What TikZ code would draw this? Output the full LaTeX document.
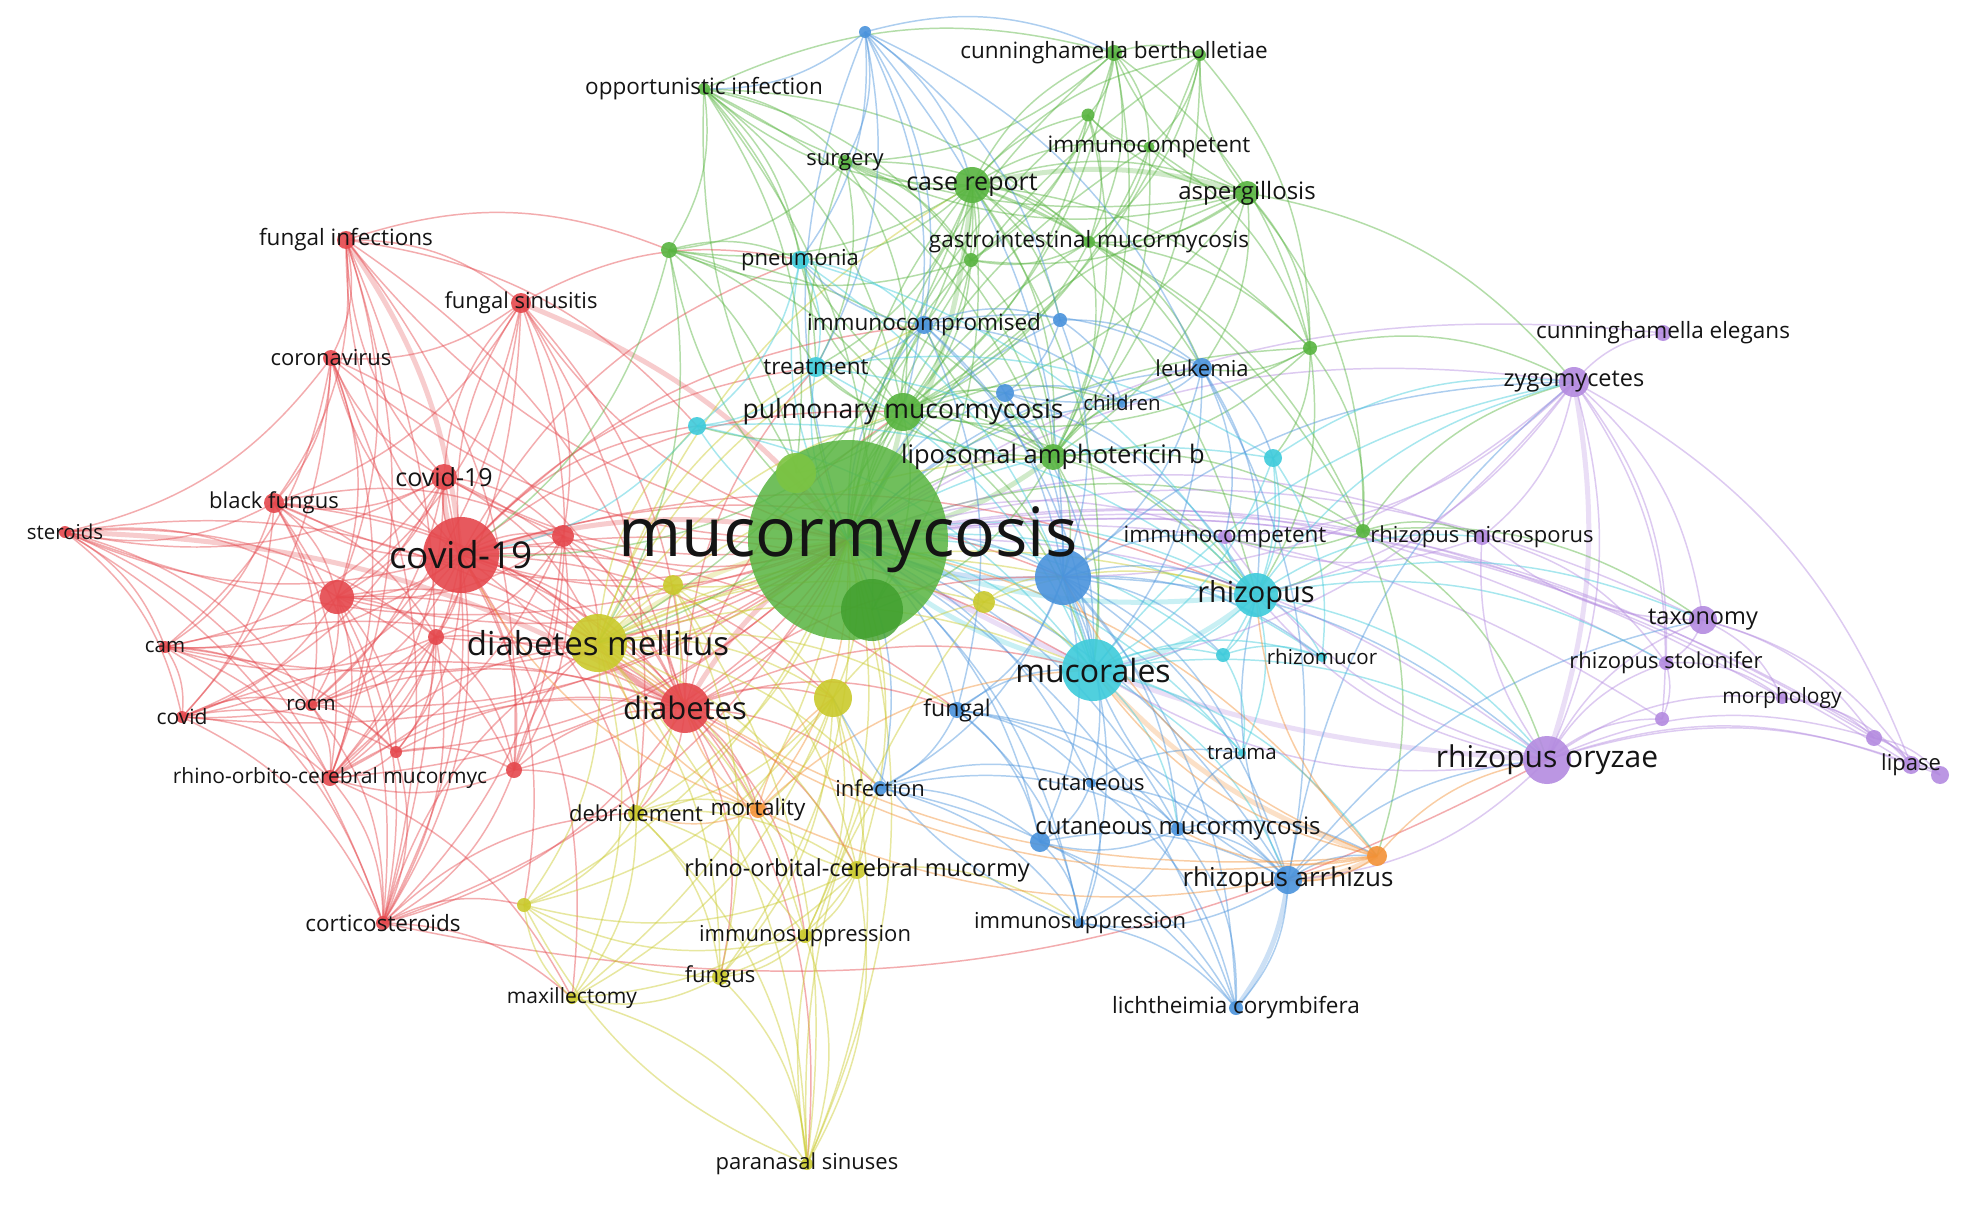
\documentclass[tikz,border=0pt]{standalone}
\usepackage{fontspec}
\setmainfont{Open Sans}
\usetikzlibrary{positioning}
\pgfdeclarelayer{back}
\pgfdeclarelayer{edges}
\pgfsetlayers{back,edges,main}

\definecolor{vred}{HTML}{E5484D}
\definecolor{vgreen}{HTML}{58B440}
\definecolor{vgdark}{HTML}{3E9E2C}
\definecolor{vglight}{HTML}{7CC443}
\definecolor{vblue}{HTML}{4A93DC}
\definecolor{vyellow}{HTML}{CACA2C}
\definecolor{vcyan}{HTML}{3ECBDB}
\definecolor{vpurple}{HTML}{B48BE0}
\definecolor{vorange}{HTML}{F39237}

\newcommand\kwfont[1]{\pgfmathsetlengthmacro\kwsz{#1*0.25pt}\fontsize{\kwsz}{\kwsz}\selectfont}

\tikzset{
  vn/.style 2 args={circle, inner sep=0pt, minimum size={#2*0.25pt}, fill=#1, fill opacity=.9},
  kw/.style={inner sep=0pt, text=black!92, text opacity=1, font=\kwfont{#1}},
  eg/.style={draw=#1, draw opacity=.45, line width=.37pt, bend left=20},
  heavy/.style={draw=#1, draw opacity=.28, line width=1.25pt, bend left=14}
}

\begin{document}
\begin{tikzpicture}[x=0.25pt,y=-0.25pt]
\useasboundingbox (0,0) rectangle (1979,1209);
\begin{pgfonlayer}{back}
  \fill[white] (0,0) rectangle (1979,1209);
\end{pgfonlayer}

% green cluster
\node[vn={vgreen}{200}, fill opacity=.85] (mucor) at (848,540) {};
\node[vn={vglight}{40}] (glight) at (796,473) {};
\node[vn={vgdark}{62}, fill opacity=.8] (gdark) at (872,610) {};
\node[vn={vgreen}{36}] (casrep) at (972,185) {};
\node[vn={vgreen}{24}] (asperg) at (1247,193) {};
\node[vn={vgreen}{16}] (cunber) at (1114,53) {};
\node[vn={vgreen}{12}] (g1) at (1200,55) {};
\node[vn={vgreen}{12}] (oppinf) at (704,89) {};
\node[vn={vgreen}{14}] (surg) at (845,162) {};
\node[vn={vgreen}{11}] (imcomp1) at (1149,147) {};
\node[vn={vgreen}{13}] (g2) at (1088,115) {};
\node[vn={vgreen}{12}] (gastro) at (1089,242) {};
\node[vn={vgreen}{14}] (g3) at (971,260) {};
\node[vn={vgreen}{16}] (g4) at (669,250) {};
\node[vn={vgreen}{14}] (g5) at (1310,348) {};
\node[vn={vgreen}{38}] (pulm) at (903,412) {};
\node[vn={vgreen}{26}] (lipo) at (1053,457) {};
\node[vn={vgreen}{14}] (g6) at (1363,531) {};

% blue cluster
\node[vn={vblue}{12}] (b1) at (865,32) {};
\node[vn={vblue}{18}] (imcomp) at (924,325) {};
\node[vn={vblue}{14}] (b2) at (1060,320) {};
\node[vn={vblue}{20}] (leuk) at (1202,368) {};
\node[vn={vblue}{18}] (b3) at (1005,393) {};
\node[vn={vblue}{10}] (child) at (1122,403) {};
\node[vn={vblue}{56}] (bbig) at (1063,577) {};
\node[vn={vblue}{16}] (fungal) at (957,710) {};
\node[vn={vblue}{14}] (infec) at (880,788) {};
\node[vn={vblue}{10}] (cutan) at (1091,783) {};
\node[vn={vblue}{14}] (cutmuc) at (1178,829) {};
\node[vn={vblue}{20}] (b4) at (1040,842) {};
\node[vn={vblue}{28}] (rarr) at (1288,880) {};
\node[vn={vblue}{10}] (imsupb) at (1080,923) {};
\node[vn={vblue}{14}] (licht) at (1236,1008) {};

% cyan cluster
\node[vn={vcyan}{18}] (pneu) at (800,260) {};
\node[vn={vcyan}{20}] (treat) at (816,367) {};
\node[vn={vcyan}{18}] (c1) at (697,426) {};
\node[vn={vcyan}{18}] (c2) at (1273,458) {};
\node[vn={vcyan}{44}] (rhizo) at (1256,595) {};
\node[vn={vcyan}{14}] (c3) at (1223,655) {};
\node[vn={vcyan}{10}] (rmucor) at (1322,657) {};
\node[vn={vcyan}{62}] (mucorl) at (1093,670) {};
\node[vn={vcyan}{8}] (trauma) at (1242,753) {};

% red cluster
\node[vn={vred}{76}] (covid) at (461,555) {};
\node[vn={vred}{26}] (cov2) at (444,477) {};
\node[vn={vred}{18}] (funinf) at (346,240) {};
\node[vn={vred}{20}] (funsin) at (521,303) {};
\node[vn={vred}{16}] (coron) at (331,358) {};
\node[vn={vred}{20}] (blackf) at (274,503) {};
\node[vn={vred}{12}] (steroid) at (65,532) {};
\node[vn={vred}{22}] (r1) at (563,536) {};
\node[vn={vred}{34}] (r2) at (337,597) {};
\node[vn={vred}{16}] (r3) at (436,637) {};
\node[vn={vred}{12}] (cam) at (165,647) {};
\node[vn={vred}{12}] (rocm) at (311,705) {};
\node[vn={vred}{12}] (covid5) at (182,717) {};
\node[vn={vred}{12}] (r4) at (396,752) {};
\node[vn={vred}{16}] (r5) at (514,770) {};
\node[vn={vred}{16}] (rhinoorb) at (330,778) {};
\node[vn={vred}{50}] (diab) at (685,708) {};
\node[vn={vred}{14}] (cortico) at (383,923) {};

% yellow cluster
\node[vn={vyellow}{58}] (diabm) at (598,643) {};
\node[vn={vyellow}{20}] (y1) at (673,585) {};
\node[vn={vyellow}{22}] (y2) at (984,602) {};
\node[vn={vyellow}{38}] (y3) at (833,698) {};
\node[vn={vyellow}{16}] (debr) at (636,813) {};
\node[vn={vyellow}{18}] (rhinoorbital) at (857,870) {};
\node[vn={vyellow}{14}] (imsupy) at (805,936) {};
\node[vn={vyellow}{16}] (fungus) at (720,977) {};
\node[vn={vyellow}{12}] (maxil) at (572,998) {};
\node[vn={vyellow}{14}] (y4) at (524,905) {};
\node[vn={vyellow}{12}] (paran) at (807,1164) {};

% orange cluster
\node[vn={vorange}{16}] (mort) at (758,810) {};
\node[vn={vorange}{20}] (o1) at (1377,856) {};

% purple cluster
\node[vn={vpurple}{14}] (imcomp2) at (1225,537) {};
\node[vn={vpurple}{16}] (rmicro) at (1482,537) {};
\node[vn={vpurple}{16}] (cunel) at (1663,333) {};
\node[vn={vpurple}{30}] (zygo) at (1574,382) {};
\node[vn={vpurple}{28}] (taxon) at (1703,620) {};
\node[vn={vpurple}{14}] (rstolo) at (1666,663) {};
\node[vn={vpurple}{12}] (morph) at (1782,698) {};
\node[vn={vpurple}{14}] (p1) at (1662,719) {};
\node[vn={vpurple}{16}] (p2) at (1874,738) {};
\node[vn={vpurple}{18}] (lipase) at (1911,765) {};
\node[vn={vpurple}{18}] (p3) at (1940,775) {};
\node[vn={vpurple}{48}] (roryz) at (1547,760) {};

% labels
\node[kw=68] (tmucor) at (mucor) {mucormycosis};
\node[kw=25] (tcasrep) at (casrep) {case report};
\node[kw=24] (tasperg) at (asperg) {aspergillosis};
\node[kw=22.5] (tcunber) at (cunber) {cunninghamella bertholletiae};
\node[kw=22.5] (toppinf) at (oppinf) {opportunistic infection};
\node[kw=22] (tsurg) at (surg) {surgery};
\node[kw=22.5] (timcomp1) at (imcomp1) {immunocompetent};
\node[kw=22.5] (tgastro) at (gastro) {gastrointestinal mucormycosis};
\node[kw=26.5] (tpulm) at (pulm) {pulmonary mucormycosis};
\node[kw=25.5] (tlipo) at (lipo) {liposomal amphotericin b};
\node[kw=22.5] (timcomp) at (imcomp) {immunocompromised};
\node[kw=22] (tleuk) at (leuk) {leukemia};
\node[kw=20.5] (tchild) at (child) {children};
\node[kw=23] (tfungal) at (fungal) {fungal};
\node[kw=22] (tinfec) at (infec) {infection};
\node[kw=22] (tcutan) at (cutan) {cutaneous};
\node[kw=24] (tcutmuc) at (cutmuc) {cutaneous mucormycosis};
\node[kw=26] (trarr) at (rarr) {rhizopus arrhizus};
\node[kw=22] (timsupb) at (imsupb) {immunosuppression};
\node[kw=22.5] (tlicht) at (licht) {lichtheimia corymbifera};
\node[kw=22] (tpneu) at (pneu) {pneumonia};
\node[kw=22.5] (ttreat) at (treat) {treatment};
\node[kw=29] (trhizo) at (rhizo) {rhizopus};
\node[kw=20.5] (trmucor) at (rmucor) {rhizomucor};
\node[kw=32] (tmucorl) at (mucorl) {mucorales};
\node[kw=20.5] (ttrauma) at (trauma) {trauma};
\node[kw=37] (tcovid) at (covid) {covid-19};
\node[kw=25] (tcov2) at (cov2) {covid-19};
\node[kw=22.5] (tfuninf) at (funinf) {fungal infections};
\node[kw=22] (tfunsin) at (funsin) {fungal sinusitis};
\node[kw=22] (tcoron) at (coron) {coronavirus};
\node[kw=22] (tblackf) at (blackf) {black fungus};
\node[kw=20.5] (tsteroid) at (steroid) {steroids};
\node[kw=20.5] (tcam) at (cam) {cam};
\node[kw=20.5] (trocm) at (rocm) {rocm};
\node[kw=21] (tcovid5) at (covid5) {covid};
\node[kw=21] (trhinoorb) at (rhinoorb) {rhino-orbito-cerebral mucormyc};
\node[kw=31] (tdiab) at (diab) {diabetes};
\node[kw=22.5] (tcortico) at (cortico) {corticosteroids};
\node[kw=33] (tdiabm) at (diabm) {diabetes mellitus};
\node[kw=22] (tdebr) at (debr) {debridement};
\node[kw=23.5] (trhinoorbital) at (rhinoorbital) {rhino-orbital-cerebral mucormy};
\node[kw=22] (timsupy) at (imsupy) {immunosuppression};
\node[kw=22] (tfungus) at (fungus) {fungus};
\node[kw=21] (tmaxil) at (maxil) {maxillectomy};
\node[kw=22] (tparan) at (paran) {paranasal sinuses};
\node[kw=22.5] (tmort) at (mort) {mortality};
\node[kw=22.5] (timcomp2) at (imcomp2) {immunocompetent};
\node[kw=22] (trmicro) at (rmicro) {rhizopus microsporus};
\node[kw=22.5] (tcunel) at (cunel) {cunninghamella elegans};
\node[kw=23.5] (tzygo) at (zygo) {zygomycetes};
\node[kw=23.5] (ttaxon) at (taxon) {taxonomy};
\node[kw=22] (trstolo) at (rstolo) {rhizopus stolonifer};
\node[kw=21] (tmorph) at (morph) {morphology};
\node[kw=22] (tlipase) at (lipase) {lipase};
\node[kw=30] (troryz) at (roryz) {rhizopus oryzae};

\begin{pgfonlayer}{edges}
% heavy links
\foreach \c/\s/\t in {vred/covid/mucor, vyellow/diabm/mucor, vred/diab/mucor,
  vgreen/pulm/mucor, vgreen/casrep/mucor, vcyan/mucorl/mucor, vcyan/rhizo/mucor,
  vblue/bbig/mucor, vpurple/roryz/mucor, vgreen/lipo/mucor, vred/funinf/covid,
  vred/covid/cov2, vred/diab/diabm, vorange/o1/rarr, vorange/o1/mucorl,
  vgreen/casrep/asperg, vred/steroid/diab, vred/funsin/mucor, vblue/rarr/licht,
  vpurple/zygo/roryz, vcyan/rhizo/mucorl}
  \draw[heavy=\c] (\s.center) to (\t.center);
% links
\foreach \c/\s/\ts in {
  vgreen/mucor/{casrep,asperg,cunber,g1,oppinf,surg,imcomp1,g2,gastro,g3,g4,g5,pulm,lipo,g6},
  vred/mucor/{covid,cov2,funinf,funsin,coron,blackf,steroid,r1,r2,r3,cam,rocm,covid5,r4,r5,rhinoorb,diab,cortico},
  vyellow/mucor/{diabm,y1,y2,y3,debr,rhinoorbital,imsupy,fungus,maxil,y4,paran},
  vblue/mucor/{b1,imcomp,b2,leuk,b3,child,bbig,fungal,infec,cutan,cutmuc,b4,rarr,imsupb,licht},
  vcyan/mucor/{pneu,treat,c1,c2,rhizo,c3,rmucor,mucorl,trauma},
  vpurple/mucor/{imcomp2,rmicro,cunel,zygo,taxon,rstolo,morph,p1,p2,lipase,p3,roryz},
  vorange/mucor/{mort,o1},
  vred/covid/{cov2,funinf,funsin,coron,blackf,steroid,r1,r2,r3,cam,rocm,covid5,r4,r5,rhinoorb,diab,cortico,diabm,y1,debr,maxil,y4,mort,treat,pulm,c1,pneu,fungal,rhizo,mucorl,bbig,imcomp,y3},
  vred/cov2/{funinf,funsin,coron,blackf,steroid,r2,cam,covid5,rocm,rhinoorb,diab,cortico,r1,diabm},
  vred/funinf/{funsin,coron,blackf,r2,diab,r5,rhinoorb,cortico,c1,g4},
  vred/funsin/{coron,blackf,r2,diab,r1,rocm,r5,rhinoorb,pneu,debr},
  vred/coron/{blackf,steroid,r2,cam,covid5,rhinoorb,diab,cortico},
  vred/blackf/{steroid,r2,cam,covid5,rocm,rhinoorb,diab,r1,r3,cortico,diabm},
  vred/steroid/{r2,cam,covid5,rhinoorb,cortico,r3,rocm,diabm},
  vred/r1/{r2,r3,diab,diabm,r5,rhinoorb,cortico},
  vred/r2/{r3,cam,covid5,rocm,r4,r5,rhinoorb,diab,cortico,diabm},
  vred/r3/{cam,covid5,rocm,r4,r5,rhinoorb,diab,cortico},
  vred/cam/{covid5,rocm,rhinoorb,cortico,r4,diab},
  vred/covid5/{rhinoorb,cortico,r4,diab,rocm},
  vred/rocm/{r4,rhinoorb,cortico,diab},
  vred/r4/{rhinoorb,cortico,r5,diab},
  vred/r5/{rhinoorb,cortico,diab,debr,diabm},
  vred/rhinoorb/{cortico,diab,diabm,maxil},
  vred/diab/{cortico,y1,y3,debr,mort,rhinoorbital,imsupy,fungus,paran,fungal,infec,mucorl,treat,pulm,bbig},
  vred/cortico/{diabm,maxil,y4,debr},
  vred/roryz/{cortico},
  vyellow/diabm/{y1,y2,y3,debr,rhinoorbital,imsupy,fungus,maxil,y4,paran,mort,infec,fungal,mucorl,treat,c1,pulm,lipo,rhizo,bbig,imcomp,casrep},
  vyellow/y1/{y3,debr,rhinoorbital,fungus,paran},
  vyellow/y3/{debr,rhinoorbital,imsupy,fungus,paran,maxil,y4,mort,y2},
  vyellow/debr/{rhinoorbital,imsupy,fungus,paran,maxil,y4,mort},
  vyellow/rhinoorbital/{imsupy,fungus,paran,maxil,y4,mort,imsupb},
  vyellow/imsupy/{fungus,paran,y4},
  vyellow/fungus/{paran,maxil,y4},
  vyellow/maxil/{y4,paran},
  vyellow/paran/{y4,y2,infec},
  vyellow/y2/{bbig,rhizo,mucorl},
  vgreen/casrep/{asperg,cunber,g1,oppinf,surg,imcomp1,g2,gastro,g3,g4,g5,pulm,lipo,pneu,treat,imcomp,leuk,b2,g6,gdark,glight,rhizo,mucorl,diabm},
  vgreen/asperg/{cunber,g1,imcomp1,g2,gastro,g3,g5,pulm,lipo,leuk,g6,surg,oppinf,zygo},
  vgreen/cunber/{g1,imcomp1,g2,gastro,g3,pulm,lipo,g5,surg},
  vgreen/g1/{imcomp1,gastro,g5,lipo,pulm},
  vgreen/oppinf/{surg,g4,pulm,lipo,gastro,g3,treat,pneu,cunber,glight,gdark},
  vgreen/surg/{g4,pulm,lipo,g3,treat,gastro},
  vgreen/imcomp1/{g2,gastro,lipo,pulm,g5},
  vgreen/g2/{gastro,pulm,lipo,g3},
  vgreen/gastro/{g3,pulm,lipo,g5,leuk,g6},
  vgreen/g3/{pulm,lipo,g4},
  vgreen/g4/{pulm,lipo,treat,pneu,glight,diabm,covid},
  vgreen/g5/{lipo,pulm,leuk,g6,zygo,rhizo,c2},
  vgreen/pulm/{lipo,treat,pneu,imcomp,b3,child,c1,gdark,glight,covid,diabm,mucorl,bbig,rhizo},
  vgreen/lipo/{treat,pneu,imcomp,b3,child,leuk,rhizo,mucorl,bbig,g6,gdark},
  vgreen/g6/{rmicro,roryz,rhizo,imcomp2,zygo,taxon,o1},
  vblue/b1/{oppinf,pneu,treat,imcomp,b2,casrep,surg,leuk,bbig,pulm,cunber},
  vblue/imcomp/{b2,leuk,b3,child,bbig,treat,pneu,fungal,mucorl},
  vblue/b2/{leuk,b3,child,bbig},
  vblue/leuk/{b3,child,bbig,c2,rhizo,mucorl,rarr,imcomp2},
  vblue/b3/{child,bbig,mucorl,rhizo},
  vblue/bbig/{fungal,infec,cutan,cutmuc,b4,rarr,imsupb,licht,mucorl,rhizo,c3,rmucor,trauma,roryz,zygo,imcomp2},
  vblue/fungal/{infec,cutan,cutmuc,b4,rarr,imsupb,mucorl},
  vblue/infec/{cutan,cutmuc,b4,imsupb,licht},
  vblue/cutan/{cutmuc,b4,rarr,imsupb,licht,trauma},
  vblue/cutmuc/{b4,rarr,imsupb,licht,trauma,o1},
  vblue/b4/{rarr,imsupb,licht},
  vblue/rarr/{imsupb,licht,o1,roryz,rhizo,mucorl,zygo,taxon},
  vblue/imsupb/{licht,y3},
  vcyan/pneu/{treat,c1,imcomp,mucorl,rhizo},
  vcyan/treat/{c1,mucorl,rhizo,c2},
  vcyan/c1/{mucorl,rhizo,covid},
  vcyan/c2/{rhizo,mucorl,c3,rmucor,zygo},
  vcyan/rhizo/{mucorl,c3,rmucor,trauma,roryz,zygo,taxon,imcomp2,rmicro,rstolo},
  vcyan/mucorl/{c3,rmucor,trauma,roryz,zygo,rarr,cutmuc,o1},
  vcyan/c3/{rmucor,trauma},
  vpurple/zygo/{cunel,roryz,taxon,rmicro,imcomp2,rstolo,p1,lipase,rhizo,mucorl,bbig},
  vpurple/roryz/{rmicro,taxon,rstolo,morph,p1,p2,lipase,p3,imcomp2,mucorl,rhizo,rarr},
  vpurple/taxon/{rmicro,rstolo,morph,p2,lipase},
  vpurple/rmicro/{imcomp2,rstolo},
  vpurple/rstolo/{morph,p1},
  vpurple/morph/{p2,lipase},
  vpurple/p2/{lipase,p3},
  vpurple/lipase/{p3},
  vorange/o1/{mort,mucorl,rarr,roryz,cutmuc,rhizo,bbig,diabm,diab},
  vorange/mort/{diab,diabm,debr,y3,mucorl,covid}}
  \foreach \t in \ts
    \draw[eg=\c] (\s.center) to (\t.center);
\end{pgfonlayer}
\end{tikzpicture}
\end{document}
